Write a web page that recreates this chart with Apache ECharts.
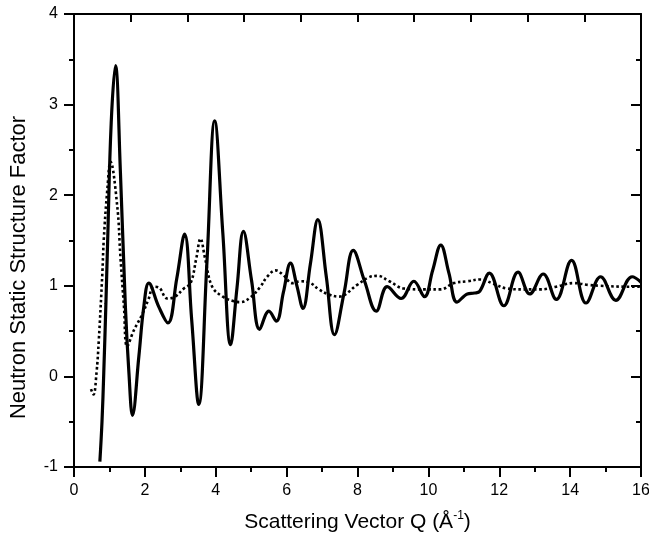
<!DOCTYPE html>
<html>
<head>
<meta charset="utf-8">
<script src="https://cdn.jsdelivr.net/npm/echarts@6/dist/echarts.min.js"></script>
<style>
html,body{margin:0;padding:0;background:#fff;}
#chart{width:649px;height:539px;}
</style>
</head>
<body>
<div id="chart"></div>
<script>
// Solid curve: Q (1/Å), S(Q)
const solidQ = [0.73,0.79,0.84,0.90,0.95,1.05,1.17,1.31,1.45,1.55,1.65,1.83,1.97,2.11,2.39,2.65,2.90,3.12,3.32,3.52,3.75,3.97,4.20,4.42,4.60,4.78,5.01,5.24,5.50,5.71,5.91,6.11,6.29,6.46,6.67,6.88,7.12,7.35,7.62,7.88,8.20,8.53,8.84,9.23,9.59,9.89,10.12,10.35,10.58,10.81,11.10,11.30,11.45,11.72,12.13,12.53,12.86,13.24,13.61,14.04,14.45,14.86,15.29,15.75,16.0];
const solidS = [-0.94,-0.50,0.04,0.80,1.50,2.80,3.43,2.25,0.77,0.04,-0.43,0.22,0.77,1.03,0.77,0.59,1.08,1.57,0.63,-0.31,1.25,2.82,1.58,0.35,0.98,1.60,1.06,0.52,0.72,0.61,0.93,1.25,1.00,0.75,1.24,1.73,1.10,0.46,0.92,1.39,1.05,0.72,0.99,0.86,1.05,0.88,1.17,1.45,1.14,0.82,0.91,0.92,0.94,1.14,0.78,1.15,0.91,1.13,0.85,1.28,0.81,1.10,0.84,1.10,1.04];
// Dotted curve
const dottedQ = [0.48,0.55,0.635,0.70,0.80,0.84,0.94,1.03,1.22,1.31,1.41,1.50,1.69,1.92,2.10,2.25,2.40,2.63,2.85,3.10,3.29,3.45,3.57,3.70,3.90,4.20,4.51,4.70,5.00,5.26,5.45,5.69,5.90,6.16,6.39,6.67,6.91,7.15,7.47,7.99,8.30,8.56,8.90,9.31,9.87,10.34,10.72,11.10,11.47,11.85,12.22,12.70,13.16,13.60,14.10,14.50,14.86,15.61,16.0];
const dottedS = [-0.14,-0.20,0.04,0.40,1.14,1.51,2.06,2.37,1.88,1.32,0.77,0.33,0.51,0.68,0.85,0.99,0.98,0.86,0.88,0.97,1.03,1.30,1.52,1.30,0.99,0.88,0.83,0.82,0.88,0.99,1.10,1.17,1.12,1.03,1.05,1.03,0.96,0.91,0.88,1.01,1.09,1.11,1.05,0.97,0.96,0.96,1.03,1.05,1.07,1.02,0.97,0.96,0.96,0.99,1.03,1.01,1.00,0.99,0.99];
const xTicks = [0,2,4,6,8,10,12,14,16];
const yTicks = [-1,0,1,2,3,4];

const font = 'Liberation Sans, Arial, Helvetica, sans-serif';
const chart = echarts.init(document.getElementById('chart'), null, {renderer:'canvas'});
const pair = (xs, ys) => xs.map((x,i)=>[x, ys[i]]);
chart.setOption({
  animation:false,
  backgroundColor:'#fff',
  grid:{left:74, right:8, top:14, bottom:72, containLabel:false, outerBoundsMode:'none'},
  xAxis:[{
    type:'value', min:xTicks[0], max:xTicks[xTicks.length-1], interval:2, position:'bottom',
    name:'Scattering Vector Q (Å{sup|-1})', nameLocation:'middle', nameGap:43,
    nameTextStyle:{fontFamily:font, fontSize:21, color:'#000', lineHeight:25, verticalAlign:'top',
      rich:{sup:{fontFamily:font, fontSize:12, color:'#000', verticalAlign:'top', lineHeight:14}}},
    axisLine:{onZero:false, lineStyle:{color:'#000', width:2}},
    axisTick:{inside:false, length:10, lineStyle:{color:'#000', width:2}},
    minorTick:{show:true, splitNumber:2, length:5, lineStyle:{color:'#000', width:2}},
    axisLabel:{fontFamily:font, fontSize:16, color:'#000', margin:16},
    splitLine:{show:false}
  },{
    type:'value', min:0, max:16, interval:1.6, position:'top',
    axisLine:{show:true, onZero:false, lineStyle:{color:'#000', width:2}},
    axisTick:{inside:true, length:8, lineStyle:{color:'#000', width:2}},
    axisLabel:{show:false}, splitLine:{show:false}
  }],
  yAxis:[{
    type:'value', min:yTicks[0], max:yTicks[yTicks.length-1], interval:1, position:'left',
    name:'Neutron Static Structure Factor', nameLocation:'middle', nameGap:44,
    nameTextStyle:{fontFamily:font, fontSize:22, color:'#000', padding:[0,54,0,0]},
    axisLine:{onZero:false, lineStyle:{color:'#000', width:2}},
    axisTick:{inside:false, length:10, lineStyle:{color:'#000', width:2}},
    minorTick:{show:true, splitNumber:2, length:5, lineStyle:{color:'#000', width:2}},
    axisLabel:{fontFamily:font, fontSize:16, color:'#000', margin:16},
    splitLine:{show:false}
  },{
    type:'value', min:yTicks[0], max:yTicks[yTicks.length-1], interval:1, position:'right',
    axisLine:{show:true, onZero:false, lineStyle:{color:'#000', width:2}},
    axisTick:{inside:true, length:10, lineStyle:{color:'#000', width:2}},
    minorTick:{show:true, splitNumber:2, length:5, lineStyle:{color:'#000', width:2}},
    axisLabel:{show:false}, splitLine:{show:false}
  }],
  series:[{
    type:'line', xAxisIndex:0, yAxisIndex:0, data:pair(solidQ, solidS), smooth:0.4,
    showSymbol:false, lineStyle:{color:'#000', width:3.2}
  },{
    type:'line', xAxisIndex:0, yAxisIndex:0, data:pair(dottedQ, dottedS), smooth:0.4,
    showSymbol:false, lineStyle:{color:'#000', width:2.6, type:[2.6,2.6]}
  }]
});
</script>
</body>
</html>
